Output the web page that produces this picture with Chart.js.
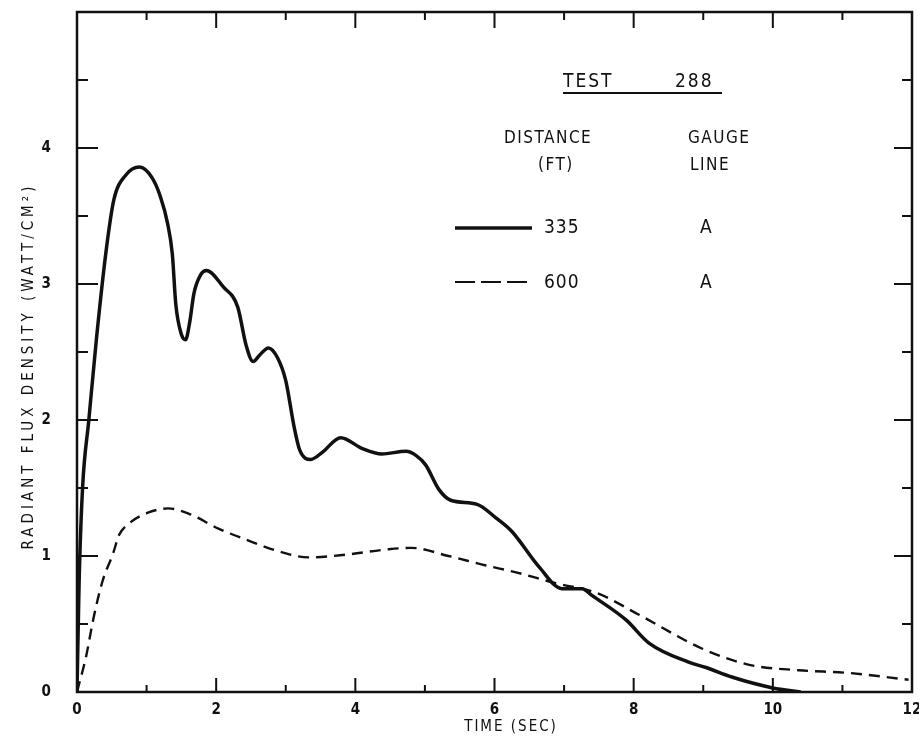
<!DOCTYPE html>
<html>
<head>
<meta charset="utf-8">
<script src="https://cdn.jsdelivr.net/npm/chart.js@4.4.1/dist/chart.umd.min.js"></script>
<style>
  html, body { margin: 0; padding: 0; background: #fff; }
  #wrap { width: 919px; height: 738px; }
</style>
</head>
<body>
<div id="wrap"><canvas id="fluxChart" width="919" height="738"></canvas></div>
<script>
// gauge line A, 335 ft
const time335 = [0, 0.03, 0.08, 0.17, 0.28, 0.42, 0.53, 0.7, 0.9, 1.08, 1.2, 1.3, 1.37, 1.42, 1.5, 1.56, 1.62, 1.68, 1.78, 1.86, 2.1, 2.31, 2.43, 2.53, 2.63, 2.75, 2.88, 3.0, 3.12, 3.2, 3.36, 3.52, 3.79, 4.1, 4.38, 4.73, 4.87, 5.01, 5.2, 5.37, 5.75, 6.02, 6.25, 6.64, 6.97, 7.26, 7.4, 7.89, 8.22, 8.79, 9.04, 9.41, 10.0, 10.4];
const flux335 = [0, 0.8, 1.5, 2.0, 2.6, 3.25, 3.62, 3.8, 3.86, 3.78, 3.64, 3.45, 3.22, 2.85, 2.63, 2.59, 2.72, 2.93, 3.07, 3.1, 2.98, 2.83, 2.55, 2.43, 2.48, 2.53, 2.46, 2.29, 1.95, 1.78, 1.71, 1.76, 1.87, 1.79, 1.75, 1.77, 1.74, 1.67, 1.49, 1.41, 1.38, 1.28, 1.18, 0.92, 0.76, 0.76, 0.71, 0.53, 0.36, 0.22, 0.18, 0.11, 0.03, 0];

// gauge line A, 600 ft
const time600 = [0, 0.13, 0.24, 0.37, 0.52, 0.6, 0.75, 1.03, 1.31, 1.61, 2.04, 2.43, 2.86, 3.33, 3.86, 4.48, 4.8, 5.34, 5.88, 6.31, 6.88, 7.46, 8.07, 8.98, 9.66, 10.37, 11.09, 11.95];
const flux600 = [0, 0.26, 0.55, 0.82, 1.02, 1.15, 1.24, 1.32, 1.35, 1.31, 1.2, 1.12, 1.04, 0.99, 1.01, 1.05, 1.06, 1.0, 0.93, 0.88, 0.8, 0.73, 0.57, 0.32, 0.2, 0.16, 0.14, 0.09];

const xTickLabels = [0, 2, 4, 6, 8, 10, 12];
const yTickLabels = [0, 1, 2, 3, 4];

const FONT = '"DejaVu Sans Condensed", "DejaVu Sans", sans-serif';
const INK = '#111';

function toPoints(xs, ys) {
    return xs.map((x, i) => ({ x: x, y: ys[i] }));
}

// frame with inward ticks on all four sides, axis titles and the key
const framePlugin = {
    id: 'frame',
    afterDraw(chart) {
        const ctx = chart.ctx;
        const area = chart.chartArea;
        const xs = chart.scales.x;
        const ys = chart.scales.y;
        ctx.save();
        ctx.strokeStyle = INK;
        ctx.lineWidth = 2.5;
        ctx.strokeRect(area.left, area.top, area.right - area.left, area.bottom - area.top);

        ctx.lineWidth = 2;
        ctx.beginPath();
        for (let t = 1; t < 12; t++) {
            const px = xs.getPixelForValue(t);
            const major = t % 2 === 0;
            ctx.moveTo(px, area.bottom);
            ctx.lineTo(px, area.bottom - (major ? 14 : 7));
            ctx.moveTo(px, area.top);
            ctx.lineTo(px, area.top + (major ? 16 : 8));
        }
        for (let v = 0.5; v < 5; v += 0.5) {
            const py = ys.getPixelForValue(v);
            const major = Number.isInteger(v);
            ctx.moveTo(area.left, py);
            ctx.lineTo(area.left + (major ? 21 : 11), py);
            ctx.moveTo(area.right, py);
            ctx.lineTo(area.right - (major ? 18 : 10), py);
        }
        ctx.stroke();

        ctx.fillStyle = INK;
        ctx.textBaseline = 'middle';

        // x axis title
        ctx.font = '15px ' + FONT;
        ctx.letterSpacing = '2px';
        ctx.textAlign = 'center';
        ctx.fillText('TIME (SEC)', 511, 727);

        // y axis title
        ctx.save();
        ctx.translate(29, 366);
        ctx.rotate(-Math.PI / 2);
        ctx.font = '15px ' + FONT;
        ctx.letterSpacing = '4px';
        ctx.fillText('RADIANT FLUX DENSITY (WATT/CM\u00B2)', 0, 0);
        ctx.restore();

        // key
        ctx.textAlign = 'left';
        ctx.font = '19px ' + FONT;
        ctx.letterSpacing = '2px';
        ctx.fillText('TEST', 563, 82);
        ctx.fillText('288', 675, 82);
        ctx.lineWidth = 1.8;
        ctx.beginPath();
        ctx.moveTo(563, 93);
        ctx.lineTo(722, 93);
        ctx.stroke();

        ctx.font = '17px ' + FONT;
        ctx.letterSpacing = '1.5px';
        ctx.fillText('DISTANCE', 504, 139);
        ctx.fillText('(FT)', 538, 166);
        ctx.fillText('GAUGE', 688, 139);
        ctx.fillText('LINE', 690, 166);

        ctx.font = '19px ' + FONT;
        ctx.letterSpacing = '1px';
        ctx.fillText('335', 544, 228);
        ctx.fillText('A', 700, 228);
        ctx.fillText('600', 544, 283);
        ctx.fillText('A', 700, 283);

        ctx.lineWidth = 3.5;
        ctx.beginPath();
        ctx.moveTo(455, 228);
        ctx.lineTo(532, 228);
        ctx.stroke();

        ctx.lineWidth = 2;
        ctx.setLineDash([20, 6]);
        ctx.beginPath();
        ctx.moveTo(455, 282);
        ctx.lineTo(530, 282);
        ctx.stroke();
        ctx.restore();
    }
};

new Chart(document.getElementById('fluxChart'), {
    type: 'line',
    data: {
        datasets: [{
            label: '335',
            data: toPoints(time335, flux335),
            borderColor: INK,
            borderWidth: 3.5,
            pointRadius: 0,
            cubicInterpolationMode: 'monotone',
            fill: false,
        }, {
            label: '600',
            data: toPoints(time600, flux600),
            borderColor: INK,
            borderWidth: 2.4,
            borderDash: [11, 7],
            pointRadius: 0,
            cubicInterpolationMode: 'monotone',
            fill: false,
        }],
    },
    options: {
        responsive: false,
        animation: false,
        layout: { padding: { top: 12, right: 7, left: 0, bottom: 0 } },
        plugins: {
            legend: { display: false },
            tooltip: { enabled: false },
        },
        scales: {
            x: {
                type: 'linear',
                min: 0,
                max: 12,
                grid: { display: false },
                border: { display: false },
                afterFit: (scale) => {
                    scale.height = 46;
                    scale.paddingLeft = 0;
                    scale.paddingRight = 0;
                },
                ticks: {
                    stepSize: 1,
                    autoSkip: false,
                    maxRotation: 0,
                    padding: 1,
                    color: INK,
                    font: { family: FONT, size: 15, weight: 'bold' },
                    callback: (v) => xTickLabels.includes(v) ? String(v) : '',
                },
            },
            y: {
                min: 0,
                max: 5,
                grid: { display: false },
                border: { display: false },
                afterFit: (scale) => {
                    scale.width = 77;
                    scale.paddingTop = 0;
                    scale.paddingBottom = 0;
                },
                ticks: {
                    stepSize: 0.5,
                    autoSkip: false,
                    padding: 18,
                    color: INK,
                    font: { family: FONT, size: 15, weight: 'bold' },
                    callback: (v) => yTickLabels.includes(v) ? String(v) : '',
                },
            },
        },
    },
    plugins: [framePlugin],
});
</script>
</body>
</html>
